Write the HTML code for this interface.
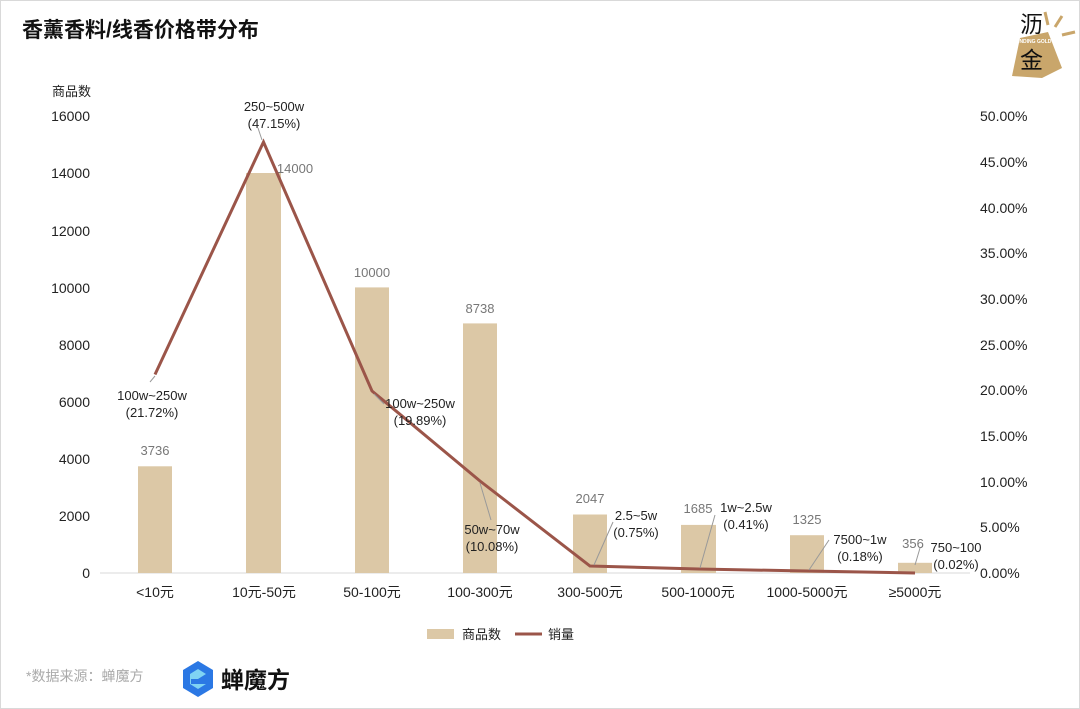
<!DOCTYPE html>
<html><head><meta charset="utf-8"><style>
html,body{margin:0;padding:0;background:#fff}
svg{display:block;font-family:"Liberation Sans","Noto Sans CJK SC",sans-serif}
</style></head><body>
<svg width="1080" height="709" viewBox="0 0 1080 709">
<rect x="0.5" y="0.5" width="1079" height="708" fill="#fff" stroke="#d9d9d9"/>
<text x="22" y="37" font-size="21" font-weight="bold" fill="#111">香薰香料/线香价格带分布</text>
<!-- logo -->
<polygon points="1020,38 1048,32 1062,68 1042,78 1012,76" fill="#c9a66b"/>
<g stroke="#c9a66b" stroke-width="3"><line x1="1045" y1="12" x2="1048" y2="25"/><line x1="1062" y1="16" x2="1055" y2="27"/><line x1="1062" y1="35" x2="1075" y2="32"/></g>
<text x="1020" y="32" font-size="23" fill="#111">沥</text>
<text x="1020" y="68" font-size="23" fill="#111">金</text>
<text x="1015" y="43" font-size="5" fill="#fff" font-weight="bold">FINDING GOLD</text>
<!-- axis labels -->
<text x="52" y="96" font-size="13" fill="#222">商品数</text>
<g font-size="14" fill="#222" text-anchor="end">
<text x="90" y="578">0</text><text x="90" y="521">2000</text><text x="90" y="464">4000</text><text x="90" y="407">6000</text><text x="90" y="350">8000</text><text x="90" y="293">10000</text><text x="90" y="236">12000</text><text x="90" y="178">14000</text><text x="90" y="121">16000</text>
</g>
<g font-size="14" fill="#222">
<text x="980" y="578">0.00%</text><text x="980" y="532">5.00%</text><text x="980" y="487">10.00%</text><text x="980" y="441">15.00%</text><text x="980" y="395">20.00%</text><text x="980" y="350">25.00%</text><text x="980" y="304">30.00%</text><text x="980" y="258">35.00%</text><text x="980" y="213">40.00%</text><text x="980" y="167">45.00%</text><text x="980" y="121">50.00%</text>
</g>
<line x1="100" y1="573" x2="970" y2="573" stroke="#d9d9d9"/>
<g fill="#dcc8a6">
<rect x="138" y="466.3" width="34" height="106.7"/><rect x="246" y="173" width="35" height="400"/><rect x="355" y="287.4" width="34" height="285.6"/><rect x="463" y="323.4" width="34" height="249.6"/><rect x="573" y="514.5" width="34" height="58.5"/><rect x="681" y="524.9" width="35" height="48.1"/><rect x="790" y="535.2" width="34" height="37.8"/><rect x="898" y="562.8" width="34" height="10.2"/>
</g>
<g font-size="13" fill="#777" text-anchor="middle">
<text x="155" y="455">3736</text><text x="295" y="173">14000</text><text x="372" y="277">10000</text><text x="480" y="313">8738</text><text x="590" y="503">2047</text><text x="698" y="513">1685</text><text x="807" y="524">1325</text><text x="913" y="548">356</text>
</g>
<polyline points="155,374.5 263.5,142 372,391 480,481 590,566 698.5,569 807,571 915,573" fill="none" stroke="#9b5549" stroke-width="3"/>
<g stroke="#999" stroke-width="1" fill="none">
<line x1="150" y1="382" x2="155" y2="376"/><line x1="258" y1="128" x2="262" y2="140"/><line x1="384" y1="404" x2="374" y2="394"/><line x1="480" y1="483" x2="491" y2="520"/><line x1="613" y1="522" x2="594" y2="565"/><line x1="715" y1="515" x2="700" y2="568"/><line x1="829" y1="540" x2="809" y2="570"/><line x1="915" y1="565" x2="920" y2="548"/>
</g>
<g font-size="13" fill="#222" text-anchor="middle">
<text x="152" y="400">100w~250w</text><text x="152" y="417">(21.72%)</text>
<text x="274" y="111">250~500w</text><text x="274" y="128">(47.15%)</text>
<text x="420" y="408">100w~250w</text><text x="420" y="425">(19.89%)</text>
<text x="492" y="534">50w~70w</text><text x="492" y="551">(10.08%)</text>
<text x="636" y="520">2.5~5w</text><text x="636" y="537">(0.75%)</text>
<text x="746" y="512">1w~2.5w</text><text x="746" y="529">(0.41%)</text>
<text x="860" y="544">7500~1w</text><text x="860" y="561">(0.18%)</text>
<text x="956" y="552">750~100</text><text x="956" y="569">(0.02%)</text>
</g>
<g font-size="14" fill="#222" text-anchor="middle">
<text x="155" y="597">&lt;10元</text><text x="264" y="597">10元-50元</text><text x="372" y="597">50-100元</text><text x="480" y="597">100-300元</text><text x="590" y="597">300-500元</text><text x="698" y="597">500-1000元</text><text x="807" y="597">1000-5000元</text><text x="915" y="597">≥5000元</text>
</g>
<rect x="427" y="629" width="27" height="10" fill="#dcc8a6"/>
<text x="462" y="639" font-size="13" fill="#222">商品数</text>
<line x1="515" y1="634" x2="542" y2="634" stroke="#9b5549" stroke-width="3"/>
<text x="548" y="639" font-size="13" fill="#222">销量</text>
<text x="26" y="681" font-size="14" fill="#aaa">*数据来源：蝉魔方</text>
<polygon points="198,661 213,670 213,688 198,697 183,688 183,670" fill="#2b78e4"/>
<polygon points="198,669 206,674 198,679 191,679 191,684 206,684 198,689 190,684 190,674" fill="#7fd3f3"/>
<text x="221" y="688" font-size="23" font-weight="bold" fill="#111">蝉魔方</text>
</svg>
</body></html>
